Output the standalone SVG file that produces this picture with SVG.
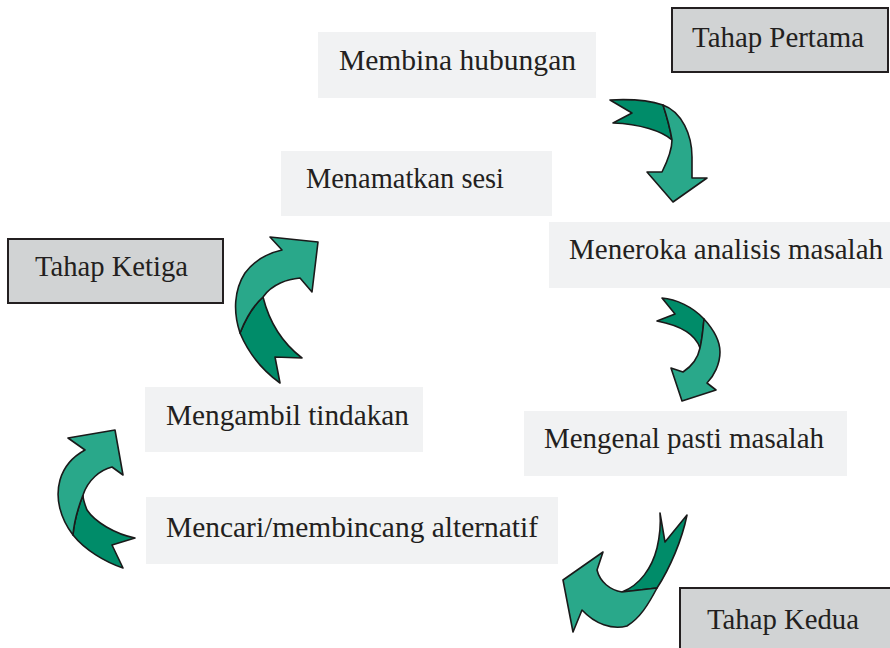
<svg xmlns="http://www.w3.org/2000/svg" width="890" height="648" viewBox="0 0 890 648">
<style>
.step{fill:#f1f2f3}
.stage{fill:#d1d3d4;stroke:#231f20;stroke-width:2}
text{font-family:"Liberation Serif","Times New Roman",serif;font-size:30px;fill:#231f20}
.dk{fill:#008c69;stroke:#1a1a1a;stroke-width:1.6;stroke-linejoin:round}
.lt{fill:#29a88a;stroke:#1a1a1a;stroke-width:1.6;stroke-linejoin:round}
</style>
<rect width="890" height="648" fill="#fff"/>
<g id="stage1"><rect class="stage" x="672" y="8" width="216" height="64"/><text x="692" y="47" textLength="172" lengthAdjust="spacingAndGlyphs">Tahap Pertama</text></g>
<g id="stage3"><rect class="stage" x="8" y="239" width="215" height="64"/><text x="35" y="276" textLength="153" lengthAdjust="spacingAndGlyphs">Tahap Ketiga</text></g>
<g id="stage2"><rect class="stage" x="680" y="588" width="215" height="70"/><text x="707" y="629" textLength="152" lengthAdjust="spacingAndGlyphs">Tahap Kedua</text></g>
<g id="n1"><rect class="step" x="318" y="32" width="278" height="66"/><text x="339" y="70" textLength="237" lengthAdjust="spacingAndGlyphs">Membina hubungan</text></g>
<g id="n2"><rect class="step" x="549" y="222" width="341" height="66"/><text x="569" y="259" textLength="314" lengthAdjust="spacingAndGlyphs">Meneroka analisis masalah</text></g>
<g id="n3"><rect class="step" x="524" y="411" width="323" height="65"/><text x="544" y="448" textLength="280" lengthAdjust="spacingAndGlyphs">Mengenal pasti masalah</text></g>
<g id="n4"><rect class="step" x="146" y="497" width="412" height="67"/><text x="166" y="537" textLength="372" lengthAdjust="spacingAndGlyphs">Mencari/membincang alternatif</text></g>
<g id="n5"><rect class="step" x="145" y="387" width="278" height="65"/><text x="166" y="425" textLength="243" lengthAdjust="spacingAndGlyphs">Mengambil tindakan</text></g>
<g id="n6"><rect class="step" x="281" y="151" width="271" height="65"/><text x="306" y="188" textLength="198" lengthAdjust="spacingAndGlyphs">Menamatkan sesi</text></g>
<g id="connectors">
<g id="a1">
<path class="dk" d="M610,100 C628,99 648,100 663,105 C667,117 670,128 672,140 C662,131 640,124 613,123 L632,113 Z"/>
<path class="lt" d="M663,105 C682,112 692,135 692,157 L692,178 L707,178 L673,202 L647,172 L662,172 C668,160 672,150 672,140 C670,128 667,117 663,105 Z"/>
</g>
<g id="a2">
<path class="dk" d="M662,298 C676,299 693,307 704,319 C703,330 702,340 700,348 C696,336 683,326 657,321 L675,314 Z"/>
<path class="lt" d="M704,319 C714,330 720,342 720,352 C720,364 714,376 707,383 L716,390 L682,401 L671,368 L683,372 C692,366 698,358 700,348 C702,340 703,330 704,319 Z"/>
</g>
<g id="a3">
<path class="dk" d="M660,513 L665,542 L687,515 C682,540 670,568 657,588 L622,592 C640,585 652,568 657,548 C660,535 661,525 660,513 Z"/>
<path class="lt" d="M622,592 L657,588 C648,605 640,618 627,626 C612,630 595,624 582,610 L573,632 L563,580 L603,552 L597,570 C600,582 610,590 622,592 Z"/>
</g>
<g id="a4">
<path class="dk" d="M280,383 L275,357 L302,358 C285,345 270,325 263,297 C254,305 246,318 240,333 C248,352 262,370 280,383 Z"/>
<path class="lt" d="M240,333 C233,312 234,290 245,273 C255,260 268,253 282,250 L270,237 L318,242 L312,292 L300,278 C288,279 272,284 263,297 C254,305 246,318 240,333 Z"/>
</g>
<g id="a5">
<path class="dk" d="M123,568 L112,545 L135,538 C115,534 95,522 87,510 C85,505 83,500 83,495 C78,508 74,522 73,535 C85,550 105,562 123,568 Z"/>
<path class="lt" d="M73,535 C60,518 55,498 60,480 C64,466 74,456 85,450 L68,438 L115,430 L123,475 L112,467 C100,470 88,480 83,495 C78,508 74,522 73,535 Z"/>
</g>
</g>
</svg>
